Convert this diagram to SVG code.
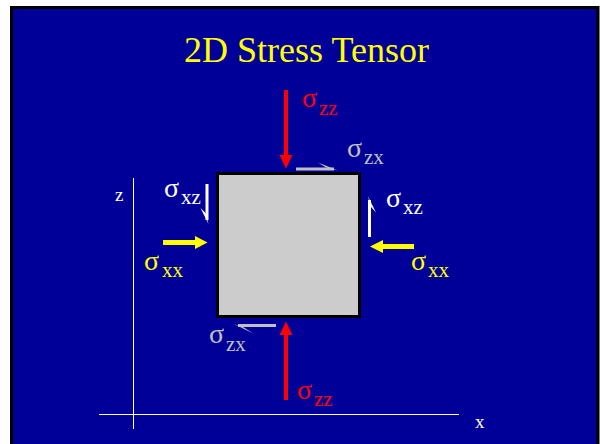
<svg xmlns="http://www.w3.org/2000/svg" width="600" height="444" viewBox="0 0 600 444" font-family="'Liberation Serif', 'Times New Roman', Tinos, 'DejaVu Serif', serif">
<style>
.sig{font-size:28px}
.sub{font-size:21px}
.ax{font-size:19px;fill:#fff}
.red{fill:#f00}.yel{fill:#ff0}.gry{fill:#c0c0c0}.wht{fill:#fff}
.shaftR{stroke:#f00;stroke-width:4}
.shaftY{stroke:#ff0;stroke-width:5}
.hw{stroke:#fff;stroke-width:3}
.hg{stroke:#c0c0c0;stroke-width:3}
</style>
<rect x="0" y="0" width="600" height="444" fill="#fff"/>
<rect x="11.5" y="7.5" width="586.5" height="445" fill="#000099" stroke="#000" stroke-width="3"/>
<g id="title"><text x="306.5" y="62" font-size="36" text-anchor="middle" fill="#ff0" font-family="Liberation Serif">2D Stress Tensor</text></g>
<g id="axes" stroke="#fff" stroke-width="1">
<line x1="133.5" y1="178" x2="133.5" y2="429"/>
<line x1="99" y1="414.5" x2="459" y2="414.5"/>
</g>
<g id="axis-z"><text class="ax" x="115" y="201">z</text></g>
<g id="axis-x"><text class="ax" x="475" y="428">x</text></g>
<g id="element"><rect x="217.5" y="173.5" width="142" height="143" fill="#ccc" stroke="#000" stroke-width="3"/></g>
<g id="connectors">
<line class="shaftR" x1="286" y1="90" x2="286" y2="157"/>
<polygon class="red" points="279.5,155 292.5,155 286,168.5"/>
<line class="shaftR" x1="286" y1="400" x2="286" y2="333"/>
<polygon class="red" points="279.5,335 292.5,335 286,321.5"/>
<line class="shaftY" x1="163" y1="242.5" x2="197" y2="242.5"/>
<polygon class="yel" points="195,236 195,249 207.5,242.5"/>
<line class="shaftY" x1="414" y1="246.5" x2="381" y2="246.5"/>
<polygon class="yel" points="383,240 383,253 370,246.5"/>
<line class="hg" x1="296" y1="169" x2="334" y2="169"/>
<polygon class="gry" points="318,162.5 338,170.5 326,167.5"/>
<line class="hg" x1="276" y1="325.5" x2="238" y2="325.5"/>
<polygon class="gry" points="253,333.5 234,324 244,327.5"/>
<line class="hw" x1="207" y1="184" x2="207" y2="220"/>
<polygon class="wht" points="200.5,208 208.5,224 205.5,213"/>
<line class="hw" x1="369.5" y1="237" x2="369.5" y2="200"/>
<polygon class="wht" points="376,212.5 368,196.5 371,207"/>
</g>
<g id="label-szz-top"><text class="red"><tspan class="sig" x="302" y="107">σ</tspan><tspan class="sub" x="319" y="115">zz</tspan></text></g>
<g id="label-szx-top"><text class="gry"><tspan class="sig" x="347" y="157">σ</tspan><tspan class="sub" x="364" y="164">zx</tspan></text></g>
<g id="label-sxz-left"><text class="wht"><tspan class="sig" x="164" y="197">σ</tspan><tspan class="sub" x="181" y="204">xz</tspan></text></g>
<g id="label-sxz-right"><text class="wht"><tspan class="sig" x="386" y="207">σ</tspan><tspan class="sub" x="403" y="214">xz</tspan></text></g>
<g id="label-sxx-left"><text class="yel"><tspan class="sig" x="144" y="270">σ</tspan><tspan class="sub" x="162" y="277">xx</tspan></text></g>
<g id="label-sxx-right"><text class="yel"><tspan class="sig" x="411" y="270">σ</tspan><tspan class="sub" x="428" y="277">xx</tspan></text></g>
<g id="label-szx-bottom"><text class="gry"><tspan class="sig" x="209" y="343">σ</tspan><tspan class="sub" x="226" y="351">zx</tspan></text></g>
<g id="label-szz-bottom"><text class="red"><tspan class="sig" x="297" y="399">σ</tspan><tspan class="sub" x="314" y="406">zz</tspan></text></g>
</svg>
